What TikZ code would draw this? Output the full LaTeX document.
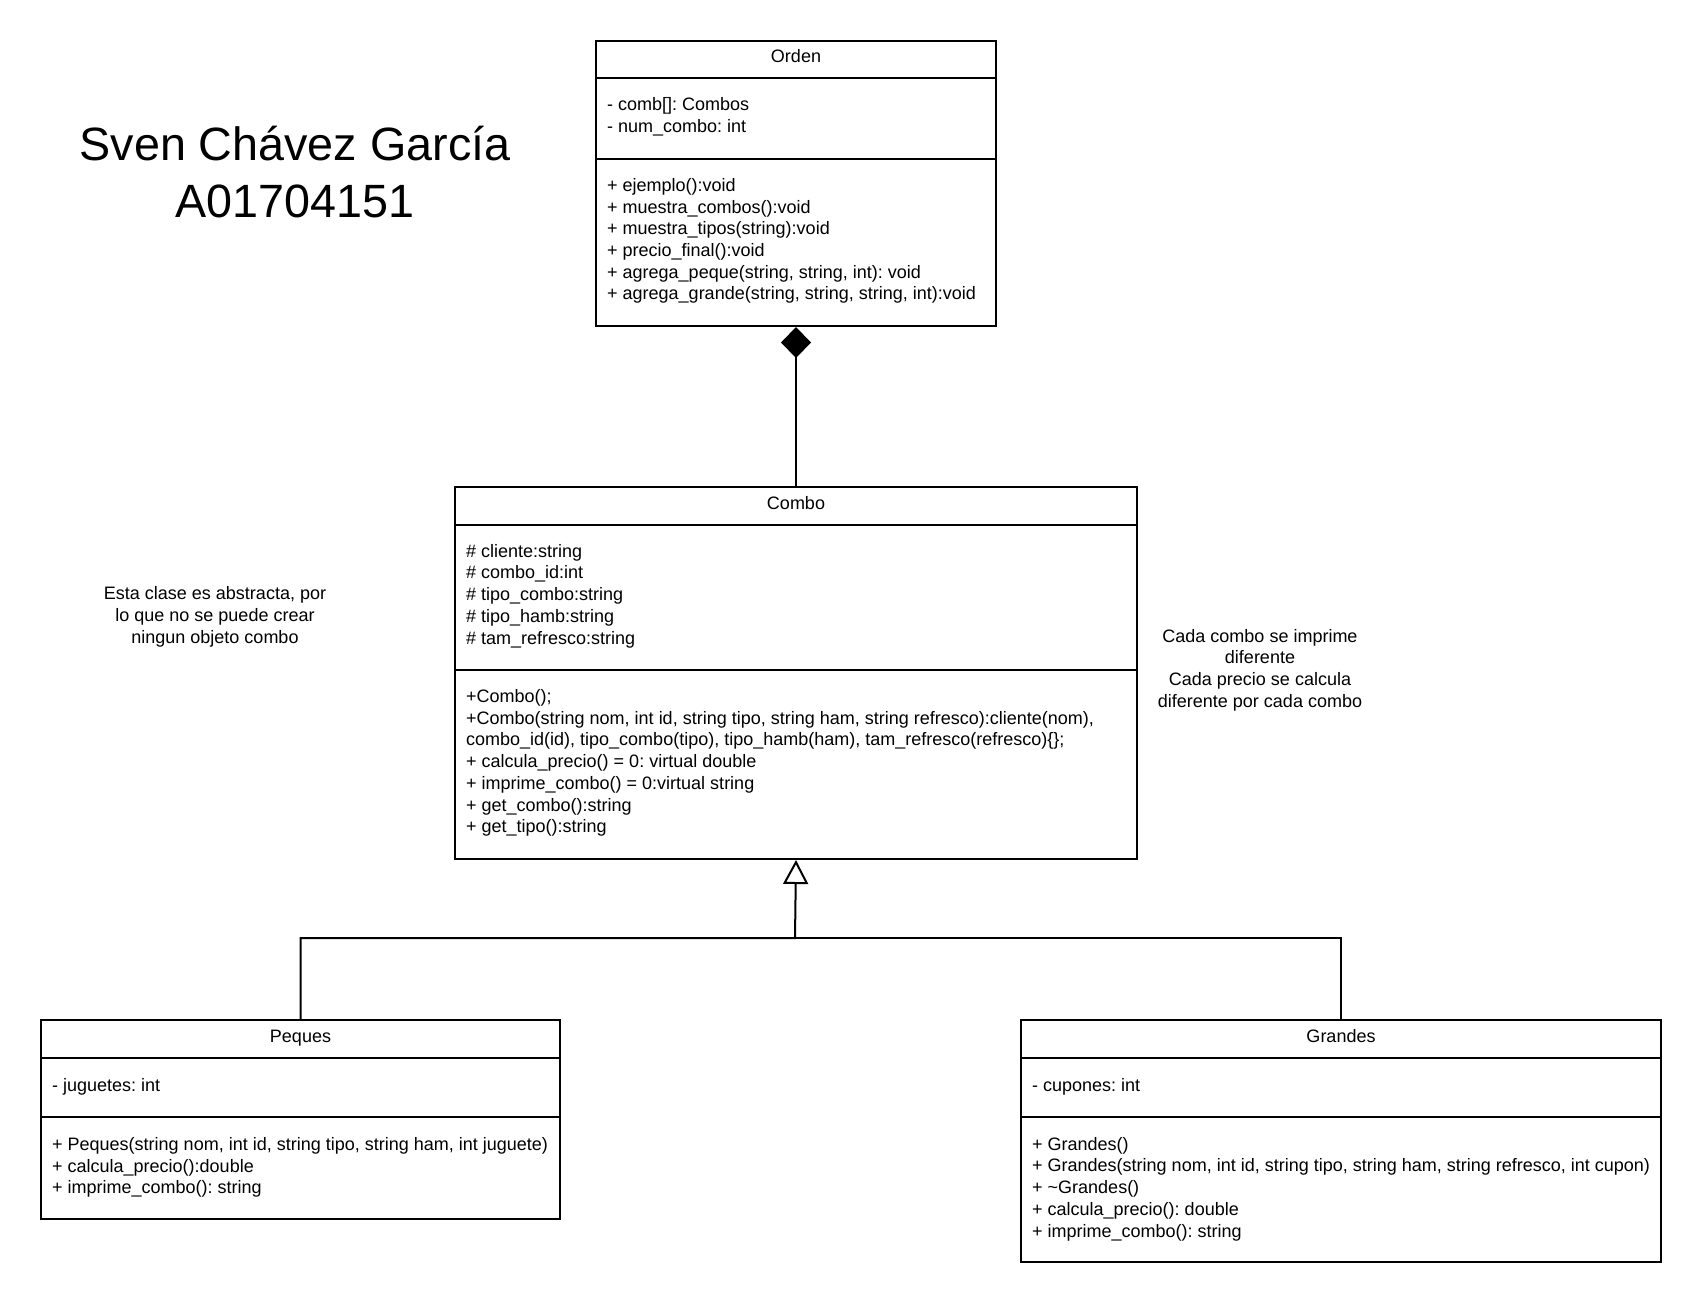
\documentclass[tikz,border=0pt]{standalone}
\usepackage{fontspec}
\setmainfont{Liberation Sans}
\usetikzlibrary{arrows.meta}
\frenchspacing
\begin{document}
\begin{tikzpicture}[x=1pt,y=-1pt,
  box/.style={draw, line width=2pt, rectangle, inner sep=0pt, anchor=north west},
  txt/.style={inner sep=0pt, align=left, anchor=west, font=\fontsize{18}{21.7}\selectfont},
  htxt/.style={inner sep=0pt, anchor=center, text height=13pt, text depth=4pt, font=\fontsize{18}{21.7}\selectfont},
  note/.style={inner sep=0pt, align=center, font=\fontsize{18}{21.7}\selectfont},
  conn/.style={line width=2pt}
]
\useasboundingbox[fill=white] (0,0) rectangle (1700,1302);

% Title
\node[inner sep=0pt, align=center, font=\fontsize{46.7}{56.4}\selectfont] (title) at (295,172) {Sven Chávez García\\A01704151};

% Notes
\node[note] (noteL) at (215,617) {Esta clase es abstracta, por\\lo que no se puede crear\\ningun objeto combo};
\node[note] (noteR) at (1260,670) {Cada combo se imprime\\diferente\\Cada precio se calcula\\diferente por cada combo};

% Orden
\node[box, minimum width=400pt, minimum height=37pt] (ordenH) at (595,40) {};
\node[box, minimum width=400pt, minimum height=81pt] (ordenA) at (595,77) {};
\node[box, minimum width=400pt, minimum height=167pt] (ordenM) at (595,158) {};
\node[htxt] (ordenHt) at ([yshift=1.5pt]ordenH.center) {Orden};
\node[txt] (ordenAt) at ([xshift=12pt,yshift=2pt]ordenA.west) {- comb[]: Combos\\- num\_combo: int};
\node[txt] (ordenMt) at ([xshift=12pt,yshift=1.5pt]ordenM.west) {+ ejemplo():void\\+ muestra\_combos():void\\+ muestra\_tipos(string):void\\+ precio\_final():void\\+ agrega\_peque(string, string, int): void\\+ agrega\_grande(string, string, string, int):void};

% Combo
\node[box, minimum width=682pt, minimum height=38pt] (comboH) at (454,486) {};
\node[box, minimum width=682pt, minimum height=145pt] (comboA) at (454,524) {};
\node[box, minimum width=682pt, minimum height=189pt] (comboM) at (454,669) {};
\node[htxt] (comboHt) at ([yshift=1.5pt]comboH.center) {Combo};
\node[txt] (comboAt) at ([xshift=12pt,yshift=1.5pt]comboA.west) {\# cliente:string\\\# combo\_id:int\\\# tipo\_combo:string\\\# tipo\_hamb:string\\\# tam\_refresco:string};
\node[txt] (comboMt) at ([xshift=12pt,yshift=1.5pt]comboM.west) {+Combo();\\+Combo(string nom, int id, string tipo, string ham, string refresco):cliente(nom),\\combo\_id(id), tipo\_combo(tipo), tipo\_hamb(ham), tam\_refresco(refresco)\{\};\\+ calcula\_precio() = 0: virtual double\\+ imprime\_combo() = 0:virtual string\\+ get\_combo():string\\+ get\_tipo():string};

% Peques
\node[box, minimum width=519pt, minimum height=38pt] (peqH) at (40,1019) {};
\node[box, minimum width=519pt, minimum height=59pt] (peqA) at (40,1057) {};
\node[box, minimum width=519pt, minimum height=102pt] (peqM) at (40,1116) {};
\node[htxt] (peqHt) at ([yshift=1.5pt]peqH.center) {Peques};
\node[txt] (peqAt) at ([xshift=12pt,yshift=0.5pt]peqA.west) {- juguetes: int};
\node[txt] (peqMt) at ([xshift=12pt,yshift=0.5pt]peqM.west) {+ Peques(string nom, int id, string tipo, string ham, int juguete)\\+ calcula\_precio():double\\+ imprime\_combo(): string};

% Grandes
\node[box, minimum width=640pt, minimum height=38pt] (grH) at (1020,1019) {};
\node[box, minimum width=640pt, minimum height=59pt] (grA) at (1020,1057) {};
\node[box, minimum width=640pt, minimum height=145pt] (grM) at (1020,1116) {};
\node[htxt] (grHt) at ([yshift=1.5pt]grH.center) {Grandes};
\node[txt] (grAt) at ([xshift=12pt,yshift=0.5pt]grA.west) {- cupones: int};
\node[txt] (grMt) at ([xshift=12pt,yshift=0.5pt]grM.west) {+ Grandes()\\+ Grandes(string nom, int id, string tipo, string ham, string refresco, int cupon)\\+ \textasciitilde Grandes()\\+ calcula\_precio(): double\\+ imprime\_combo(): string};

% Composition
\draw[conn, -{Diamond[length=31pt, width=30pt, fill=black]}] (comboH.north) -- (ordenM.south);

% Inheritance
\coordinate (junc) at (795,938);
\draw[conn, -{Triangle[open, length=24pt, width=25pt, fill=white]}] (peqH.north) |- (junc) -- (comboM.south);
\draw[conn] (grH.north) |- (junc);
\end{tikzpicture}
\end{document}
